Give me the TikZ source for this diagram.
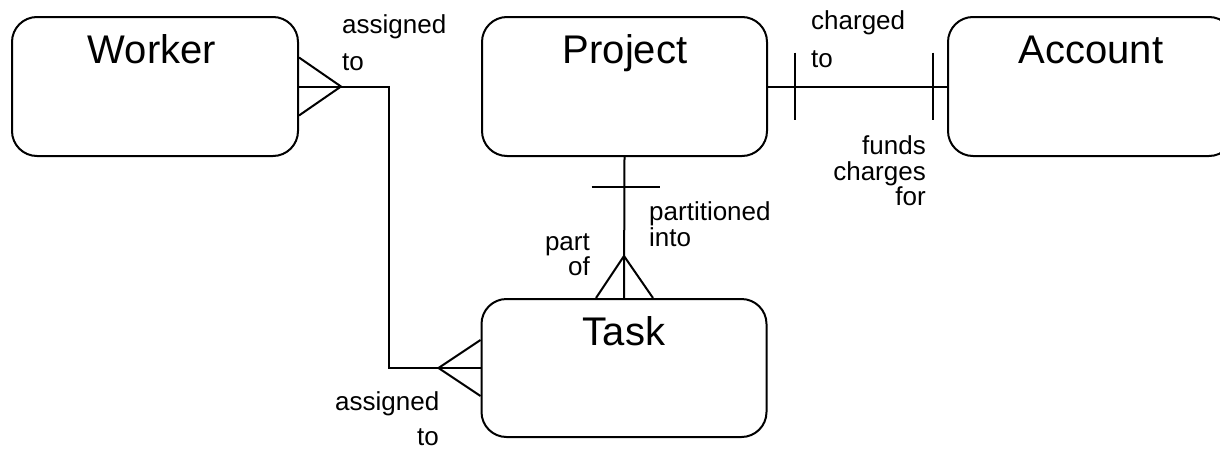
\documentclass[tikz,border=0pt]{standalone}
\usepackage{fontspec}
\setmainfont{Liberation Sans}
\usetikzlibrary{calc}
\begin{document}
\begin{tikzpicture}[x=1pt,y=-1pt,
  box/.style={draw, line width=2pt, rounded corners=25pt, inner sep=0pt},
  conn/.style={draw, line width=2pt, line join=miter},
  title/.style={inner sep=0pt, anchor=base, font=\fontsize{40}{40}\selectfont},
  lbl/.style={inner sep=0pt, font=\fontsize{26}{26}\selectfont}]
\clip (0,0) rectangle (1220,450);
\fill[white] (0,0) rectangle (1220,450);
% entities
\node[box, minimum width=286pt, minimum height=139pt] (worker) at (155,86.5) {};
\node[box, minimum width=285pt, minimum height=139pt] (project) at (624.5,86.5) {};
\node[box, minimum width=286pt, minimum height=139pt] (account) at (1091,86.5) {};
\node[box, minimum width=285pt, minimum height=138pt] (task) at (624,368) {};
\node[title] (workerT) at (152,63) {Worker};
\node[title] (projectT) at (625,63) {Project};
\node[title] (accountT) at (1091,63) {Account};
\node[title] (taskT) at (624,345) {Task};
% Worker -- Task
\coordinate (wa) at ($(worker.east)+(42,0)$);
\coordinate (bend) at (389,86.5);
\draw[conn] ($(worker.east)+(0,-29)$) -- (wa) -- ($(worker.east)+(0,29)$);
\draw[conn] (worker.east) -- (bend) |- (task.west);
\coordinate (ta) at ($(task.west)+(-42,0)$);
\draw[conn] ($(task.west)+(0,-28)$) -- (ta) -- ($(task.west)+(0,28)$);
% Project -- Task
\draw[conn] (project.south) -- (task.north);
\draw[conn] ($(project.south)+(-33,30)$) -- ($(project.south)+(35,30)$);
\coordinate (pa) at ($(task.north)+(0,-42)$);
\draw[conn] ($(task.north)+(-28,0)$) -- (pa) -- ($(task.north)+(29,0)$);
% Project -- Account
\draw[conn] (project.east) -- (account.west);
\draw[conn] ($(project.east)+(27,-34)$) -- ($(project.east)+(27,33)$);
\draw[conn] ($(account.west)+(-14,-34)$) -- ($(account.west)+(-14,33)$);
% labels
\node[lbl, anchor=base west] (l1) at (342,33) {assigned};
\node[lbl, anchor=base west] (l2) at (342,70) {to};
\node[lbl, anchor=base west] (l3) at (811,29) {charged};
\node[lbl, anchor=base west] (l4) at (811,67) {to};
\node[lbl, anchor=base east] (l5) at (926,154) {funds};
\node[lbl, anchor=base east] (l6) at (926,180) {charges};
\node[lbl, anchor=base east] (l7) at (926,205) {for};
\node[lbl, anchor=base west] (l8) at (649,220) {partitioned};
\node[lbl, anchor=base west] (l9) at (649,246) {into};
\node[lbl, anchor=base east] (l10) at (590,250) {part};
\node[lbl, anchor=base east] (l11) at (590,275) {of};
\node[lbl, anchor=base west] (l12) at (335,410) {assigned};
\node[lbl, anchor=base east] (l13) at (439,445) {to};
\end{tikzpicture}
\end{document}
